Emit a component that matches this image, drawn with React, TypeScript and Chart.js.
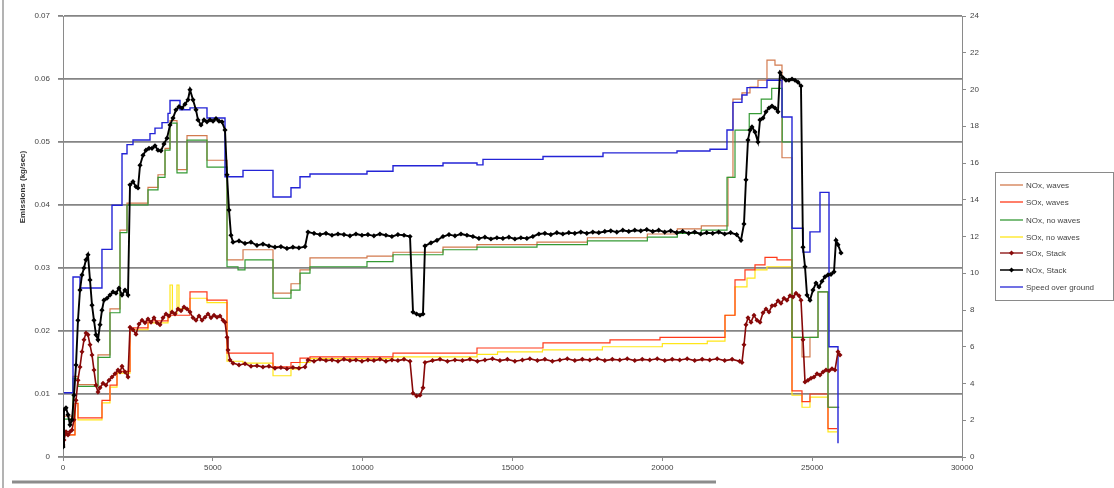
import React, { useEffect, useRef } from 'react';
import { Chart, registerables } from 'chart.js';
Chart.register(...registerables);

// ---------- data (x = time, left axis = emissions kg/sec, right axis = speed) ----------
const xTicks = [0, 5000, 10000, 15000, 20000, 25000, 30000];
const legendLabels = ['NOx, waves', 'SOx, waves', 'NOx, no waves', 'SOx, no waves', 'SOx, Stack', 'NOx, Stack', 'Speed over ground'];

const speedX = [30, 334, 567, 1300, 1635, 1969, 2136, 2336, 2903, 3070, 3304, 3504, 3571, 3904, 4238, 4805, 5406, 6007, 7008, 7608, 7909, 8242, 10144, 11012, 12681, 13815, 14015, 16018, 18020, 20489, 21590, 22157, 22357, 22657, 22825, 23492, 23993, 24327, 24694, 24927, 25261, 25562, 25862];
const speedY = [3.5, 9.8, 9.2, 11.3, 13.7, 16.5, 17.0, 17.25, 17.6, 17.9, 18.2, 18.7, 19.4, 18.9, 19.0, 18.45, 15.25, 15.6, 14.15, 14.65, 15.25, 15.4, 15.55, 15.85, 16.0, 15.9, 16.2, 16.35, 16.55, 16.65, 16.75, 17.8, 19.3, 19.7, 20.1, 20.5, 18.5, 12.45, 11.15, 12.25, 14.4, 6.0, 0.75];

const noxNoWavesX = [30, 334, 500, 1168, 1568, 1902, 2136, 2836, 3170, 3404, 3571, 3804, 4138, 4805, 5473, 5840, 6073, 7008, 7608, 7909, 8242, 10144, 11012, 12681, 13815, 15817, 17500, 19500, 20500, 21300, 22158, 22425, 22900, 23300, 23650, 24000, 24327, 25195, 25528, 25900];
const noxNoWavesY = [0.0060, 0.0125, 0.0112, 0.0158, 0.0229, 0.0356, 0.0400, 0.0424, 0.0444, 0.0487, 0.0530, 0.0451, 0.0503, 0.0460, 0.0302, 0.0297, 0.0313, 0.0252, 0.0265, 0.0292, 0.0302, 0.0310, 0.0321, 0.0329, 0.0333, 0.0337, 0.0343, 0.0349, 0.0355, 0.0360, 0.0444, 0.0519, 0.0545, 0.0568, 0.0585, 0.0500, 0.0190, 0.0262, 0.0079, 0.0079];

const noxWavesX = [30, 334, 500, 1168, 1568, 1902, 2136, 2836, 3170, 3404, 3571, 3804, 4138, 4805, 5473, 6007, 7008, 7608, 7909, 8242, 10144, 11012, 12681, 13815, 15817, 17500, 19500, 20500, 21300, 22191, 22357, 22658, 22925, 23192, 23492, 23759, 23993, 24327, 24661, 24927, 25195, 25528, 25900];
const noxWavesY = [0.0065, 0.0128, 0.0115, 0.0162, 0.0235, 0.0360, 0.0403, 0.0428, 0.0448, 0.0490, 0.0534, 0.0456, 0.0510, 0.0471, 0.0313, 0.0329, 0.0260, 0.0275, 0.0297, 0.0316, 0.0319, 0.0325, 0.0333, 0.0337, 0.0341, 0.0348, 0.0354, 0.0362, 0.0367, 0.0444, 0.0568, 0.0578, 0.0587, 0.0598, 0.0630, 0.0622, 0.0475, 0.0190, 0.0159, 0.0190, 0.0262, 0.0079, 0.0079];

const soxNoWavesX = [30, 400, 500, 1301, 1568, 1802, 2236, 2836, 3504, 3571, 3650, 3804, 3870, 4238, 4805, 5473, 6007, 7008, 7608, 7909, 8242, 11012, 13815, 14500, 16000, 18000, 20000, 21500, 22091, 22425, 22825, 23092, 23492, 24327, 24661, 24927, 25528, 25829];
const soxNoWavesY = [0.0035, 0.0085, 0.0059, 0.0086, 0.0111, 0.0133, 0.0202, 0.0213, 0.0222, 0.0273, 0.0228, 0.0273, 0.0235, 0.0252, 0.0245, 0.0152, 0.0149, 0.0129, 0.0140, 0.0150, 0.0156, 0.0159, 0.0163, 0.0167, 0.0170, 0.0175, 0.0180, 0.0184, 0.0225, 0.0270, 0.0284, 0.0297, 0.0302, 0.0098, 0.0079, 0.0095, 0.0040, 0.0040];

const soxWavesX = [30, 400, 500, 1301, 1568, 1802, 2236, 2836, 3504, 4238, 4805, 5473, 7008, 7608, 7909, 8242, 11012, 13815, 16018, 18253, 19922, 22091, 22425, 22758, 23092, 23426, 23826, 24327, 24661, 24927, 25528, 25829];
const soxWavesY = [0.0035, 0.0085, 0.0062, 0.0090, 0.0114, 0.0136, 0.0205, 0.0216, 0.0225, 0.0262, 0.0249, 0.0165, 0.0143, 0.0150, 0.0157, 0.0159, 0.0165, 0.0173, 0.0181, 0.0186, 0.0190, 0.0225, 0.0281, 0.0297, 0.0305, 0.0317, 0.0313, 0.0105, 0.0088, 0.0100, 0.0045, 0.0045];

const soxStackX = [0, 33, 100, 167, 234, 300, 367, 434, 500, 567, 634, 700, 767, 834, 901, 968, 1034, 1101, 1168, 1235, 1335, 1435, 1535, 1635, 1735, 1835, 1902, 1969, 2069, 2169, 2236, 2336, 2436, 2536, 2636, 2736, 2836, 2937, 3037, 3137, 3237, 3337, 3437, 3537, 3637, 3737, 3838, 3938, 4038, 4138, 4238, 4338, 4438, 4538, 4638, 4738, 4839, 4939, 5039, 5139, 5239, 5339, 5406, 5473, 5506, 5573, 5673, 5873, 6073, 6273, 6473, 6673, 6873, 7073, 7273, 7473, 7673, 7873, 8076, 8176, 8376, 8576, 8776, 8976, 9176, 9376, 9576, 9776, 9976, 10176, 10376, 10576, 10776, 10976, 11176, 11380, 11580, 11680, 11800, 11913, 12013, 12080, 12330, 12580, 12830, 13080, 13330, 13580, 13830, 14080, 14330, 14580, 14830, 15080, 15330, 15580, 15830, 16080, 16330, 16580, 16830, 17080, 17330, 17580, 17830, 18080, 18330, 18580, 18830, 19080, 19330, 19580, 19830, 20080, 20330, 20580, 20830, 21080, 21330, 21580, 21830, 22080, 22330, 22580, 22658, 22725, 22791, 22858, 22958, 23059, 23159, 23259, 23359, 23459, 23559, 23659, 23759, 23859, 23959, 24059, 24159, 24260, 24360, 24460, 24560, 24627, 24694, 24761, 24861, 24961, 25061, 25161, 25261, 25361, 25461, 25562, 25662, 25762, 25862, 25929];
const soxStackY = [0.0019, 0.0027, 0.0040, 0.0035, 0.0040, 0.0043, 0.0059, 0.0090, 0.0122, 0.0143, 0.0167, 0.0186, 0.0197, 0.0194, 0.0178, 0.0162, 0.0138, 0.0114, 0.0103, 0.0110, 0.0117, 0.0114, 0.0122, 0.0127, 0.0132, 0.0138, 0.0135, 0.0144, 0.0135, 0.0127, 0.0206, 0.0202, 0.0195, 0.0211, 0.0217, 0.0213, 0.0219, 0.0214, 0.0221, 0.0213, 0.0210, 0.0221, 0.0227, 0.0224, 0.0230, 0.0227, 0.0235, 0.0232, 0.0238, 0.0235, 0.0230, 0.0221, 0.0217, 0.0224, 0.0217, 0.0222, 0.0227, 0.0221, 0.0225, 0.0222, 0.0224, 0.0217, 0.0214, 0.0190, 0.0170, 0.0154, 0.0149, 0.0146, 0.0148, 0.0144, 0.0145, 0.0143, 0.0144, 0.0141, 0.0142, 0.0140, 0.0142, 0.0141, 0.0143, 0.0154, 0.0152, 0.0155, 0.0153, 0.0154, 0.0152, 0.0155, 0.0153, 0.0154, 0.0152, 0.0154, 0.0153, 0.0155, 0.0152, 0.0154, 0.0153, 0.0155, 0.0152, 0.0101, 0.0097, 0.0098, 0.0110, 0.0150, 0.0153, 0.0155, 0.0152, 0.0154, 0.0153, 0.0155, 0.0152, 0.0154, 0.0156, 0.0153, 0.0155, 0.0152, 0.0154, 0.0156, 0.0153, 0.0155, 0.0152, 0.0154, 0.0156, 0.0153, 0.0155, 0.0154, 0.0156, 0.0153, 0.0155, 0.0154, 0.0156, 0.0153, 0.0155, 0.0154, 0.0156, 0.0153, 0.0155, 0.0154, 0.0156, 0.0153, 0.0155, 0.0154, 0.0156, 0.0153, 0.0155, 0.0152, 0.0150, 0.0178, 0.0210, 0.0221, 0.0214, 0.0225, 0.0217, 0.0214, 0.0229, 0.0235, 0.0230, 0.0240, 0.0241, 0.0248, 0.0244, 0.0252, 0.0249, 0.0256, 0.0254, 0.0260, 0.0256, 0.0249, 0.0186, 0.0119, 0.0122, 0.0125, 0.0127, 0.0132, 0.0130, 0.0135, 0.0138, 0.0137, 0.0140, 0.0138, 0.0167, 0.0162];

const noxStackX = [0, 33, 100, 167, 234, 300, 367, 434, 500, 567, 634, 700, 767, 834, 901, 968, 1034, 1101, 1168, 1235, 1301, 1368, 1468, 1568, 1668, 1768, 1868, 1969, 2069, 2169, 2236, 2336, 2436, 2503, 2570, 2670, 2770, 2870, 2970, 3070, 3170, 3270, 3370, 3471, 3571, 3671, 3771, 3871, 3971, 4071, 4171, 4238, 4338, 4438, 4505, 4605, 4705, 4805, 4905, 5006, 5106, 5206, 5306, 5406, 5473, 5540, 5606, 5673, 5873, 6073, 6273, 6473, 6673, 6873, 7073, 7273, 7473, 7673, 7873, 8076, 8176, 8376, 8576, 8776, 8976, 9176, 9376, 9576, 9776, 9976, 10176, 10376, 10576, 10776, 10976, 11176, 11380, 11580, 11680, 11800, 11913, 12013, 12080, 12280, 12480, 12680, 12880, 13080, 13280, 13480, 13680, 13880, 14080, 14280, 14480, 14680, 14880, 15080, 15280, 15480, 15680, 15880, 16080, 16280, 16480, 16680, 16880, 17080, 17280, 17480, 17680, 17880, 18080, 18280, 18480, 18680, 18880, 19080, 19280, 19480, 19680, 19880, 20080, 20280, 20480, 20680, 20880, 21080, 21280, 21480, 21680, 21880, 22080, 22280, 22480, 22625, 22725, 22791, 22858, 22925, 22992, 23092, 23192, 23259, 23359, 23459, 23559, 23659, 23759, 23859, 23926, 24026, 24126, 24226, 24327, 24427, 24527, 24627, 24694, 24761, 24828, 24927, 25027, 25128, 25228, 25328, 25428, 25528, 25628, 25729, 25795, 25862, 25962];
const noxStackY = [0.0016, 0.0075, 0.0078, 0.0067, 0.0051, 0.0059, 0.0098, 0.0146, 0.0217, 0.0265, 0.0289, 0.0300, 0.0313, 0.0321, 0.0281, 0.0241, 0.0217, 0.0194, 0.0186, 0.0210, 0.0233, 0.0249, 0.0252, 0.0257, 0.0262, 0.0260, 0.0268, 0.0257, 0.0265, 0.0257, 0.0432, 0.0437, 0.0429, 0.0427, 0.0463, 0.0479, 0.0487, 0.0490, 0.0490, 0.0494, 0.0487, 0.0486, 0.0497, 0.0506, 0.0527, 0.0538, 0.0551, 0.0556, 0.0554, 0.0560, 0.0567, 0.0583, 0.0567, 0.0551, 0.0535, 0.0527, 0.0535, 0.0532, 0.0535, 0.0533, 0.0537, 0.0533, 0.0532, 0.0519, 0.0448, 0.0392, 0.0352, 0.0341, 0.0343, 0.0339, 0.0341, 0.0336, 0.0338, 0.0335, 0.0333, 0.0334, 0.0331, 0.0333, 0.0332, 0.0334, 0.0357, 0.0355, 0.0353, 0.0355, 0.0352, 0.0354, 0.0353, 0.0351, 0.0354, 0.0352, 0.0353, 0.0351, 0.0354, 0.0352, 0.0350, 0.0353, 0.0352, 0.0350, 0.0230, 0.0227, 0.0225, 0.0227, 0.0335, 0.0340, 0.0344, 0.0350, 0.0353, 0.0351, 0.0354, 0.0352, 0.0350, 0.0347, 0.0349, 0.0346, 0.0348, 0.0347, 0.0349, 0.0346, 0.0348, 0.0347, 0.0350, 0.0354, 0.0355, 0.0353, 0.0356, 0.0354, 0.0356, 0.0355, 0.0357, 0.0355, 0.0357, 0.0356, 0.0358, 0.0359, 0.0357, 0.0360, 0.0358, 0.0360, 0.0359, 0.0361, 0.0358, 0.0360, 0.0357, 0.0359, 0.0356, 0.0358, 0.0355, 0.0357, 0.0354, 0.0356, 0.0355, 0.0357, 0.0354, 0.0356, 0.0353, 0.0344, 0.0370, 0.0440, 0.0503, 0.0519, 0.0524, 0.0516, 0.0500, 0.0535, 0.0538, 0.0548, 0.0554, 0.0557, 0.0554, 0.0548, 0.0610, 0.0602, 0.0598, 0.0598, 0.0600, 0.0598, 0.0595, 0.0589, 0.0333, 0.0302, 0.0257, 0.0249, 0.0265, 0.0276, 0.0270, 0.0279, 0.0286, 0.0289, 0.0290, 0.0294, 0.0344, 0.0337, 0.0324];

// ---------- styling ----------
const COLORS = {
  noxWaves: '#D27A4E',
  soxWaves: '#FF3A1A',
  noxNoWaves: '#359A35',
  soxNoWaves: '#FFE619',
  soxStack: '#870808',
  noxStack: '#000000',
  speed: '#2424D6',
};
const FONT = '"Liberation Sans", Arial, sans-serif';
const legendColors = [COLORS.noxWaves, COLORS.soxWaves, COLORS.noxNoWaves, COLORS.soxNoWaves, COLORS.soxStack, COLORS.noxStack, COLORS.speed];
const legendMarkers = [false, false, false, false, true, true, false];

const pts = (xs: number[], ys: number[]) => xs.map((x, i) => ({ x, y: ys[i] }));

const extras = {
  id: 'extras',
  afterDraw(chart: any) {
    const ctx = chart.ctx as CanvasRenderingContext2D;
    ctx.save();
    // outer artifacts of the original screenshot
    ctx.strokeStyle = '#9a9a9a';
    ctx.lineWidth = 1.5;
    ctx.beginPath();
    ctx.moveTo(3, 0);
    ctx.lineTo(3, 488);
    ctx.stroke();
    ctx.lineWidth = 3;
    ctx.strokeStyle = '#8c8c8c';
    ctx.beginPath();
    ctx.moveTo(12, 482);
    ctx.lineTo(716, 482);
    ctx.stroke();

    // y-axis title
    ctx.save();
    ctx.translate(23, 187);
    ctx.rotate(-Math.PI / 2);
    ctx.fillStyle = '#333';
    ctx.font = `bold 8px ${FONT}`;
    ctx.textAlign = 'center';
    ctx.textBaseline = 'middle';
    ctx.fillText('Emissions (kg/sec)', 0, 0);
    ctx.restore();

    // legend box
    ctx.fillStyle = '#ffffff';
    ctx.fillRect(995, 172, 118, 128);
    ctx.strokeStyle = '#8a8a8a';
    ctx.lineWidth = 1;
    ctx.strokeRect(995.5, 172.5, 118, 128);
    const ys = [185, 202, 220, 237, 253, 270, 287];
    ctx.font = `8px ${FONT}`;
    ctx.textBaseline = 'middle';
    ctx.textAlign = 'left';
    legendLabels.forEach((lab, i) => {
      const y = ys[i];
      ctx.strokeStyle = legendColors[i];
      ctx.lineWidth = i === 5 ? 1.5 : 1.3;
      ctx.beginPath();
      ctx.moveTo(1000, y);
      ctx.lineTo(1023, y);
      ctx.stroke();
      if (legendMarkers[i]) {
        ctx.fillStyle = legendColors[i];
        ctx.beginPath();
        ctx.moveTo(1011.5, y - 2.5);
        ctx.lineTo(1014, y);
        ctx.lineTo(1011.5, y + 2.5);
        ctx.lineTo(1009, y);
        ctx.closePath();
        ctx.fill();
      }
      ctx.fillStyle = '#444';
      ctx.fillText(lab, 1026, y + 0.5);
    });
    ctx.restore();
  },
};

export default function App() {
  const ref = useRef<HTMLCanvasElement | null>(null);
  useEffect(() => {
    if (!ref.current) return;
    const stepLine = (label: string, color: string, xs: number[], ys: number[], axis = 'y', width = 1.2) => ({
      label,
      data: pts(xs, ys),
      borderColor: color,
      backgroundColor: color,
      borderWidth: width,
      pointRadius: 0,
      stepped: 'before' as const,
      yAxisID: axis,
      fill: false,
    });
    const markLine = (label: string, color: string, xs: number[], ys: number[], radius: number, width: number) => ({
      label,
      data: pts(xs, ys),
      borderColor: color,
      backgroundColor: color,
      borderWidth: width,
      pointRadius: radius,
      pointStyle: 'rectRot' as const,
      pointBorderWidth: 0,
      yAxisID: 'y',
      tension: 0,
      fill: false,
    });
    const datasets = [
      markLine(legendLabels[5], COLORS.noxStack, noxStackX, noxStackY, 2.6, 1.9),
      markLine(legendLabels[4], COLORS.soxStack, soxStackX, soxStackY, 2.5, 1.6),
      stepLine(legendLabels[6], COLORS.speed, speedX, speedY, 'y1', 1.4),
      stepLine(legendLabels[2], COLORS.noxNoWaves, noxNoWavesX, noxNoWavesY),
      stepLine(legendLabels[0], COLORS.noxWaves, noxWavesX, noxWavesY),
      stepLine(legendLabels[1], COLORS.soxWaves, soxWavesX, soxWavesY),
      stepLine(legendLabels[3], COLORS.soxNoWaves, soxNoWavesX, soxNoWavesY),
    ];
    const tickFont = { family: FONT, size: 8 };
    const chart = new Chart(ref.current, {
      type: 'line',
      data: { datasets: datasets as any },
      options: {
        responsive: false,
        animation: false,
        events: [],
        layout: { padding: { left: 0, right: 0, top: 16, bottom: 0 } },
        plugins: { legend: { display: false }, tooltip: { enabled: false } },
        scales: {
          x: {
            type: 'linear',
            min: 0,
            max: 30000,
            afterBuildTicks: (s: any) => { s.ticks = xTicks.map((v) => ({ value: v })); },
            ticks: { font: tickFont, color: '#444', padding: 2, maxRotation: 0, autoSkip: false, callback: (v: any) => String(v) },
            grid: { drawOnChartArea: false, drawTicks: true, tickLength: 4, color: '#8a8a8a' },
            border: { display: true, color: '#8a8a8a', width: 1 },
            afterFit: (s: any) => { s.height = 31; },
          },
          y: {
            type: 'linear',
            position: 'left',
            min: 0,
            max: 0.07,
            ticks: { stepSize: 0.01, font: tickFont, color: '#444', padding: 8, callback: (v: any) => Number(v).toFixed(2).replace(/\.?0+$/, '') },
            grid: { color: '#858585', lineWidth: 1.8, tickLength: 5 },
            border: { display: true, color: '#8a8a8a', width: 1 },
            afterFit: (s: any) => { s.width = 63; },
          },
          y1: {
            type: 'linear',
            position: 'right',
            min: 0,
            max: 24,
            ticks: { stepSize: 2, font: tickFont, color: '#444', padding: 4 },
            grid: { drawOnChartArea: false, tickLength: 4, color: '#8a8a8a' },
            border: { display: true, color: '#8a8a8a', width: 1 },
            afterFit: (s: any) => { s.width = 152; },
          },
        },
      },
      plugins: [extras],
    } as any);
    return () => chart.destroy();
  }, []);
  return (
    <div style={{ position: 'fixed', left: 0, top: 0, width: 1114, height: 488, background: '#fff' }}>
      <canvas ref={ref} width={1114} height={488} style={{ width: 1114, height: 488, display: 'block' }} />
    </div>
  );
}
